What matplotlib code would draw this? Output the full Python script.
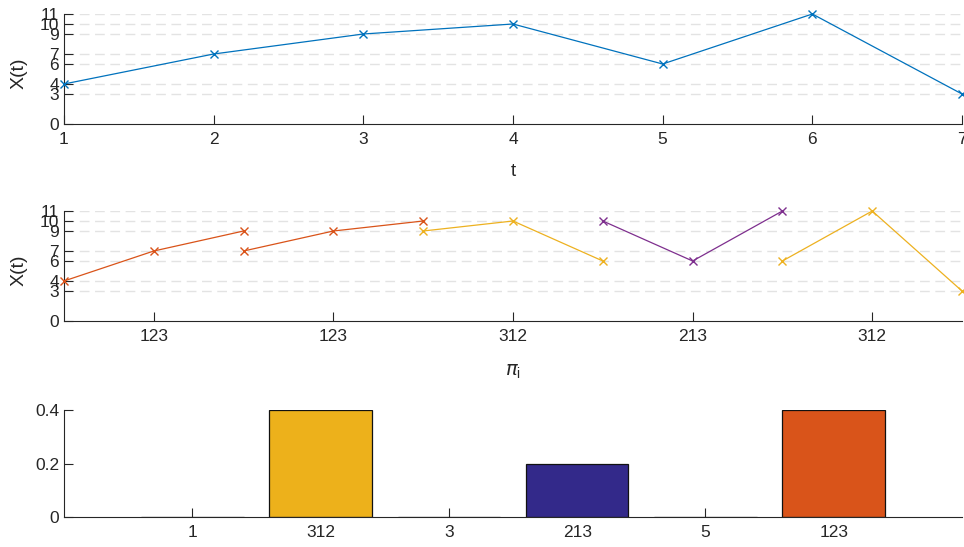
import numpy as np
import matplotlib
matplotlib.use('Agg')
import matplotlib.pyplot as plt

plt.rcParams['font.family'] = ['Liberation Sans', 'DejaVu Sans']
plt.rcParams['font.size'] = 12.5

# ─── Data ─────────────────────────────────────────────────────────────────────
t = [1, 2, 3, 4, 5, 6, 7]
X = [4, 7, 9, 10, 6, 11, 3]
grid_levels = [3, 4, 6, 7, 9, 10, 11]

# ordinal patterns of length 3 (sliding window over X)
patterns = ['123', '123', '312', '213', '312']
pattern_colors = ['#D95319', '#D95319', '#EDB120', '#7E2F8E', '#EDB120']

# pattern probability histogram
hist_labels = ['1', '312', '3', '213', '5', '123']
hist_probs = [0.0, 0.4, 0.0, 0.2, 0.0, 0.4]
hist_colors = ['#EDB11B', '#EDB11B', '#EDB11B', '#33298A', '#EDB11B', '#D9541A']

AX_COL = '#262626'
GRID_COL = '#e3e3e3'
W, H = 964, 547


def style(ax):
    for s in ['top', 'right']:
        ax.spines[s].set_visible(False)
    for s in ['left', 'bottom']:
        ax.spines[s].set_color(AX_COL)
        ax.spines[s].set_linewidth(0.8)
    ax.tick_params(direction='in', length=6.5, width=0.8, color=AX_COL,
                   labelcolor=AX_COL, labelsize=12.5)


def hgrid(ax):
    for g in grid_levels:
        ax.axhline(g, color=GRID_COL, lw=1.0, ls=(0, (7, 4)), zorder=0)


def rect(x0, x1, ybot, ytop):
    return [x0 / W, 1 - ybot / H, (x1 - x0) / W, (ybot - ytop) / H]


fig = plt.figure(figsize=(9.64, 5.47), dpi=100)

# ─── Time series ──────────────────────────────────────────────────────────────
ax1 = fig.add_axes(rect(64, 962, 124, 14))
style(ax1)
hgrid(ax1)
ax1.plot(t, X, color='#0072BD', lw=0.9, marker='x', ms=6, mew=1.0,
         clip_on=False, zorder=3)
ax1.set_xlim(1, 7)
ax1.set_ylim(0, 11)
ax1.set_xticks(t)
ax1.set_yticks([0] + grid_levels)
ax1.tick_params(axis='x', pad=6)
ax1.set_xlabel('t', color=AX_COL, fontsize=13.5, labelpad=11)
ax1.set_ylabel('X(t)', color=AX_COL, fontsize=14)
ax1.yaxis.set_label_coords(-0.041, 0.46)

# ─── Windows coloured by their ordinal pattern ────────────────────────────────
ax2 = fig.add_axes(rect(64, 962, 321, 211))
style(ax2)
hgrid(ax2)
for k, col in enumerate(pattern_colors):
    xs = np.arange(2 * k, 2 * k + 3)
    ax2.plot(xs, X[k:k + 3], color=col, lw=0.9, marker='x', ms=6, mew=1.0,
             clip_on=False, zorder=3)
ax2.set_xlim(0, 2 * len(patterns))
ax2.set_ylim(0, 11)
ax2.set_xticks(np.arange(len(patterns)) * 2 + 1)
ax2.set_xticklabels(patterns)
ax2.set_yticks([0] + grid_levels)
ax2.tick_params(axis='x', pad=6)
ax2.set_xlabel(r'$\pi_\mathregular{i}$', color=AX_COL, fontsize=14, labelpad=13)
ax2.set_ylabel('X(t)', color=AX_COL, fontsize=14)
ax2.yaxis.set_label_coords(-0.041, 0.46)

# ─── Pattern distribution ─────────────────────────────────────────────────────
ax3 = fig.add_axes(rect(64, 962, 517, 410))
style(ax3)
pos = np.arange(1, len(hist_labels) + 1)
ax3.bar(pos, hist_probs, width=0.8, color=hist_colors, edgecolor='#111111',
        linewidth=0.9, zorder=2)
ax3.set_xlim(0, 7)
ax3.set_ylim(0, 0.4)
ax3.set_xticks(pos)
ax3.set_xticklabels(hist_labels)
ax3.set_yticks([0, 0.2, 0.4])
ax3.set_yticklabels(['0', '0.2', '0.4'])
ax3.tick_params(axis='x', pad=6)

fig.savefig('out.png', dpi=100)
